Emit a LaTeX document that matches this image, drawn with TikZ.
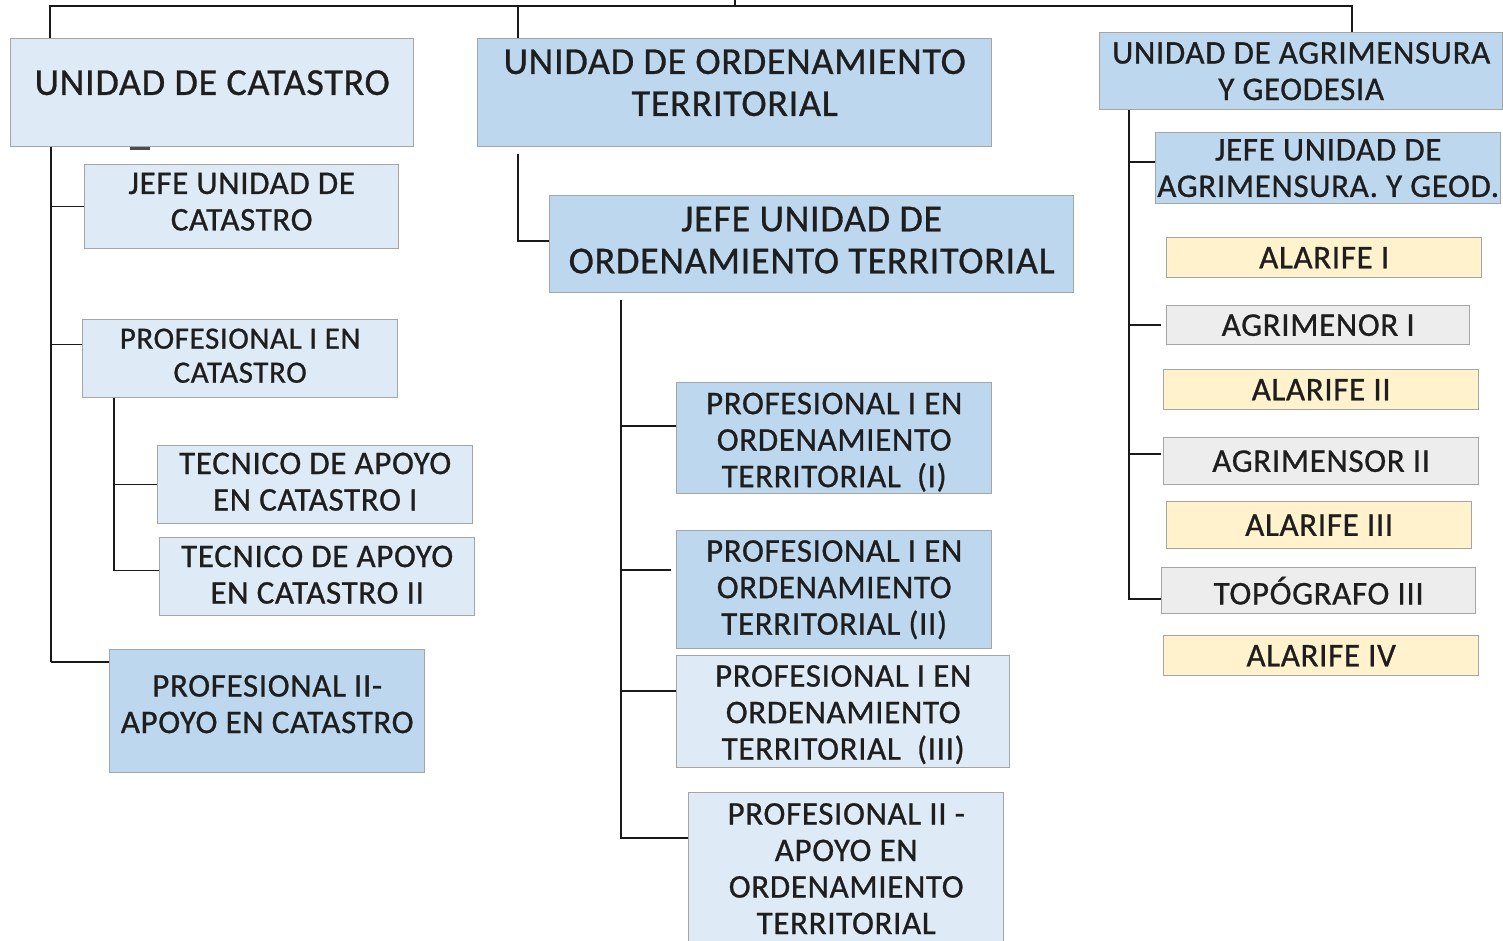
\documentclass[tikz,border=0pt]{standalone}
\usepackage{fontspec}
\setmainfont[LetterSpace=2.0, FakeBold=0.8]{Carlito}
\definecolor{lblue}{HTML}{DEEAF6}
\definecolor{dblue}{HTML}{BDD7EE}
\definecolor{ylw}{HTML}{FFF2CC}
\definecolor{gry}{HTML}{EDEDED}
\definecolor{bordc}{HTML}{A5A5A5}
\definecolor{txtc}{HTML}{1E1E1E}
\definecolor{linec}{HTML}{1A1A1A}
\tikzset{
  box/.style={draw=bordc, line width=1.4pt, inner sep=0pt, align=center, text=txtc, anchor=north west},
  lt/.style={box, fill=lblue},
  dk/.style={box, fill=dblue},
  yl/.style={box, fill=ylw},
  gr/.style={box, fill=gry},
  fA/.style={font=\fontsize{38}{42}\selectfont},
  fB/.style={font=\fontsize{33}{36.5}\selectfont},
  fC/.style={font=\fontsize{31}{34}\selectfont},
  lab/.style={align=center, text=txtc},
  conn/.style={draw=linec, line width=1.5pt},
}
\begin{document}
\begin{tikzpicture}[x=1pt,y=-1pt]
\useasboundingbox (0,0) rectangle (1503,940);
\clip (0,0) rectangle (1503,940);
% ---------- Catastro ----------
\node[lt, minimum width=403, minimum height=108, label={[lab, fA, yshift=10pt]center:{UNIDAD DE CATASTRO}}] (cat) at (10,38) {};
\node[lt, minimum width=314, minimum height=84, label={[lab, fB, yshift=5pt]center:{JEFE UNIDAD DE\\CATASTRO}}] (jc) at (84,164) {};
\node[lt, minimum width=315, minimum height=78, label={[lab, fC, yshift=3pt]center:{PROFESIONAL I EN\\CATASTRO}}] (pcat) at (82,319) {};
\node[lt, minimum width=315, minimum height=78, label={[lab, fB, yshift=3pt]center:{TECNICO DE APOYO\\EN CATASTRO I}}] (tc1) at (157,445) {};
\node[lt, minimum width=315, minimum height=78, label={[lab, fB, yshift=2pt]center:{TECNICO DE APOYO\\EN CATASTRO II}}] (tc2) at (159,537) {};
\node[dk, minimum width=315, minimum height=123, label={[lab, fB, yshift=7pt]center:{PROFESIONAL II-\\APOYO EN CATASTRO}}] (pc2) at (109,649) {};
% ---------- Ordenamiento ----------
\node[dk, minimum width=514, minimum height=108, label={[lab, fA, yshift=10pt]center:{UNIDAD DE ORDENAMIENTO\\TERRITORIAL}}] (ord) at (477,38) {};
\node[dk, minimum width=524, minimum height=97, label={[lab, fA, yshift=4pt]center:{JEFE UNIDAD DE\\ORDENAMIENTO TERRITORIAL}}] (jo) at (549,195) {};
\node[dk, minimum width=315, minimum height=111, label={[lab, fB, yshift=-4pt]center:{PROFESIONAL I EN\\ORDENAMIENTO\\TERRITORIAL~ (I)}}] (po1) at (676,382) {};
\node[dk, fB, minimum width=315, minimum height=118] (po2) at (676,530) {PROFESIONAL I EN\\ORDENAMIENTO\\TERRITORIAL (II)};
\node[lt, minimum width=333, minimum height=112, label={[lab, fB, yshift=-3pt]center:{PROFESIONAL I EN\\ORDENAMIENTO\\TERRITORIAL~ (III)}}] (po3) at (676,655) {};
\node[lt, fB, minimum width=315, minimum height=152] (po4) at (688,792) {PROFESIONAL II -\\APOYO EN\\ORDENAMIENTO\\TERRITORIAL};
% ---------- Agrimensura ----------
\node[dk, fB, minimum width=403, minimum height=77] (agr) at (1099,32) {UNIDAD DE AGRIMENSURA\\Y GEODESIA};
\node[dk, fB, minimum width=345, minimum height=71] (ja) at (1155,132) {JEFE UNIDAD DE\\AGRIMENSURA. Y GEOD.};
\node[yl, fB, minimum width=315, minimum height=40] (al1) at (1166,237) {ALARIFE I};
\node[gr, fB, minimum width=303, minimum height=39] (ag1) at (1166,305) {AGRIMENOR I};
\node[yl, fB, minimum width=315, minimum height=40] (al2) at (1163,369) {ALARIFE II};
\node[gr, fB, minimum width=315, minimum height=47] (ag2) at (1163,437) {AGRIMENSOR II};
\node[yl, fB, minimum width=305, minimum height=47] (al3) at (1166,501) {ALARIFE III};
\node[gr, fB, minimum width=314, minimum height=46] (t3) at (1161,567) {TOPÓGRAFO III};
\node[yl, fB, minimum width=315, minimum height=40] (al4) at (1163,635) {ALARIFE IV};
% ---------- attachment points ----------
\coordinate (pcatW) at ([yshift=14pt]pcat.west);
\coordinate (pc2W) at ([yshift=-13pt]pc2.north west);
\coordinate (tc2W) at ([yshift=6pt]tc2.west);
\coordinate (joW) at ([yshift=3pt]jo.west);
\coordinate (po1W) at ([yshift=-44pt]po1.north west);
\coordinate (po2W) at ([yshift=-40pt,xshift=-5pt]po2.north west);
\coordinate (po3W) at ([yshift=-36pt]po3.north west);
\coordinate (po4W) at ([yshift=-46pt]po4.north west);
\coordinate (jaW) at ([yshift=-30pt]ja.north west);
\coordinate (ag1W) at ([xshift=-5pt]ag1.west);
\coordinate (ag2W) at ([yshift=-17pt,xshift=-2pt]ag2.north west);
\coordinate (t3W) at ([yshift=-32pt]t3.north west);
% ---------- Top bar ----------
\coordinate (t0) at (735,0);
\coordinate (tb) at (735,6);
\coordinate (catN) at ([xshift=40pt]cat.north west);
\coordinate (ordN) at ([xshift=41pt]ord.north west);
\coordinate (agrN) at ([xshift=253pt]agr.north west);
\draw[conn] (t0) -- (tb);
\draw[conn] (catN) |- (tb) -| (agrN);
\draw[conn] (ordN) -- (ordN |- tb);
% ---------- Catastro connectors ----------
\coordinate (catT) at ([xshift=41pt]cat.south west);
\draw[conn] (catT) -- (catT |- pc2W);
\draw[conn] (catT |- jc.west) -- (jc.west);
\draw[conn] (catT |- pcatW) -- (pcatW);
\draw[conn, line width=2.6pt] (pc2W) -- (pc2W -| catT);
\draw[conn, line width=2.6pt] ([yshift=-35pt]catT) -- ([yshift=-58pt]catT);
\draw[conn, line width=2.6pt, draw=black!70] ([xshift=120pt,yshift=-1pt]cat.south west) -- ([xshift=140pt,yshift=-1pt]cat.south west);
\coordinate (pcB) at ([xshift=32pt]pcat.south west);
\draw[conn] (pcB) |- (tc2W);
\draw[conn] (pcB |- tc1.west) -- (tc1.west);
% ---------- Ordenamiento connectors ----------
\coordinate (ordB) at ([xshift=41pt,yshift=-7pt]ord.south west);
\draw[conn] (ordB) |- (joW);
\coordinate (joB) at ([xshift=72pt,yshift=-7pt]jo.south west);
\draw[conn] (joB) |- (po4W);
\draw[conn] (joB |- po1W) -- (po1W);
\draw[conn] (joB |- po2W) -- (po2W);
\draw[conn] (joB |- po3W) -- (po3W);
% ---------- Agrimensura connectors ----------
\coordinate (agrB) at ([xshift=30pt]agr.south west);
\draw[conn] (agrB) |- (t3W);
\draw[conn] (agrB |- jaW) -- (jaW);
\draw[conn] (agrB |- ag1W) -- (ag1W);
\draw[conn] (agrB |- ag2W) -- (ag2W);
\end{tikzpicture}
\end{document}
